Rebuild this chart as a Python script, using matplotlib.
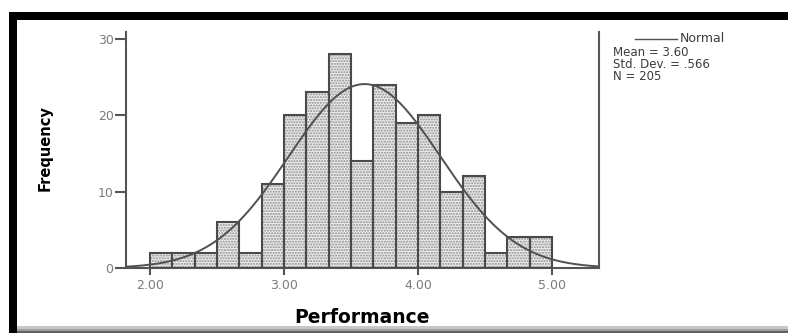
import numpy as np
import matplotlib.pyplot as plt
from matplotlib.patches import Rectangle
from matplotlib.lines import Line2D

# Dane histogramu
bin_start = 2.0
bin_width = 1 / 6
counts = [2, 2, 2, 6, 2, 11, 20, 23, 28, 14, 24, 19, 20, 10, 12, 2, 4, 4]
x_ticks = [2.0, 3.0, 4.0, 5.0]
x_tick_labels = ['2.00', '3.00', '4.00', '5.00']
y_ticks = [0, 10, 20, 30]
mean = 3.60
std_dev = 0.566
n_obs = 205

plt.rcParams['font.family'] = ['DejaVu Sans']

fig = plt.figure(figsize=(7.88, 3.33), dpi=100)
ax = fig.add_axes([0.1599, 0.1952, 0.6003, 0.7087])

edges = bin_start + bin_width * np.arange(len(counts))

# Kropkowane wypełnienie słupków
ax.bar(edges, counts, width=bin_width, align='edge', facecolor='#ececec',
       edgecolor='#8c8c8c', hatch='......', linewidth=0, zorder=2)
# Obrys słupków
ax.bar(edges, counts, width=bin_width, align='edge', facecolor='none',
       edgecolor='#4a4a4a', linewidth=1.5, zorder=3)

# Krzywa normalna
xs = np.linspace(1.82, 5.35, 300)
pdf = np.exp(-0.5 * ((xs - mean) / std_dev) ** 2) / (std_dev * np.sqrt(2 * np.pi))
ax.plot(xs, n_obs * bin_width * pdf, color='#505050', linewidth=1.4, zorder=4)

ax.set_xlim(1.82, 5.35)
ax.set_ylim(0, 30.9)
ax.set_xticks(x_ticks)
ax.set_xticklabels(x_tick_labels)
ax.set_yticks(y_ticks)

ax.spines['top'].set_visible(False)
for side in ['left', 'right', 'bottom']:
    ax.spines[side].set_color('#555555')
    ax.spines[side].set_linewidth(1.5)

ax.tick_params(axis='y', length=8, width=1.5, color='#555555',
               labelcolor='#7a7a7a', labelsize=9, pad=1)
ax.tick_params(axis='x', length=5, width=1.5, color='#555555',
               labelcolor='#7a7a7a', labelsize=9, pad=3)

ax.set_xlabel('Performance', fontsize=13.5, fontweight='bold')
ax.set_ylabel('Frequency', fontsize=10.5, fontweight='bold')
ax.xaxis.set_label_coords(0.499, -0.169)
ax.yaxis.set_label_coords(-0.156, 0.508)

# Legenda / statystyki
fig.add_artist(Line2D([0.806, 0.859], [0.883, 0.883], color='#505050',
                      linewidth=1.0, transform=fig.transFigure))
fig.text(0.862, 0.883, 'Normal', fontsize=9, color='#3c3c3c', va='center')
stats = f'Mean = {mean:.2f}\nStd. Dev. = .566\nN = {n_obs}'
fig.text(0.778, 0.862, stats, fontsize=8.5, color='#3c3c3c', va='top',
         linespacing=0.88)

# Ramka obrazu
W, H = 788, 333
def px_rect(x0, y0, x1, y1, color):
    fig.add_artist(Rectangle((x0 / W, 1 - y1 / H), (x1 - x0) / W, (y1 - y0) / H,
                             transform=fig.transFigure, facecolor=color,
                             edgecolor='none'))

px_rect(9, 12, 788, 20, 'black')
px_rect(9, 12, 17, 333, 'black')
px_rect(17, 326, 788, 329, '#c8c8c8')
px_rect(17, 329, 788, 331, '#a0a0a0')
px_rect(17, 331, 788, 333, '#606060')

fig.savefig('out.png', dpi=100)
